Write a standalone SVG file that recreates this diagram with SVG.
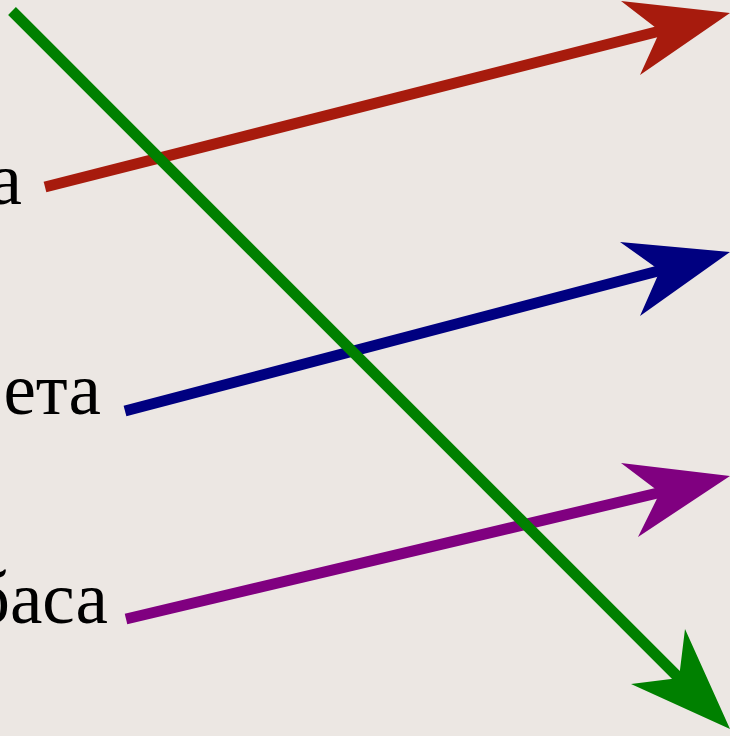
<svg xmlns="http://www.w3.org/2000/svg" width="730" height="736" viewBox="0 0 730 736">
<style>
.lbl{font-family:"Liberation Serif","Times New Roman",serif;font-size:73px;fill:#000;text-anchor:end}
.ln{stroke-width:11;fill:none;stroke-linecap:butt}
</style>
<rect x="0" y="0" width="730" height="736" fill="#ECE7E3"/>
<g id="labels">
<g id="label-a"><text class="lbl" x="22" y="204">а</text></g>
<g id="label-eta"><text class="lbl" x="101" y="414">ета</text></g>
<g id="label-basa"><text class="lbl" x="108" y="623">баса</text></g>
</g>
<g id="connectors">
<g id="red-arrow">
<line class="ln" x1="45" y1="187" x2="662" y2="30.5" stroke="#A71B0D"/>
<polygon points="730,13 621,1 660,31 640,75" fill="#A71B0D"/>
</g>
<g id="blue-arrow">
<line class="ln" x1="125" y1="411" x2="662" y2="270" stroke="#000080"/>
<polygon points="730,252 620,242 660,270.4 640,316" fill="#000080"/>
</g>
<g id="purple-arrow">
<line class="ln" x1="126" y1="619" x2="662" y2="492" stroke="#800080"/>
<polygon points="730,476 621,463 660,492.6 638,537" fill="#800080"/>
</g>
<g id="green-arrow">
<line class="ln" x1="12" y1="11" x2="681" y2="680" stroke="#008000"/>
<polygon points="730,729 685,629 679,678 631,684" fill="#008000"/>
</g>
</g>
</svg>
